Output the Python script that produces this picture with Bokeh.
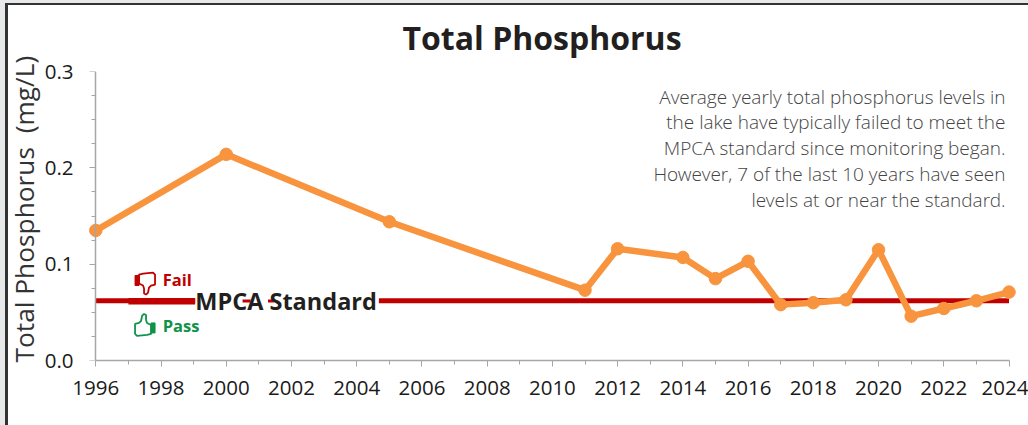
from bokeh.plotting import figure
from bokeh.models import Range1d, LinearAxis, FixedTicker, Label, Title
from bokeh.embed import file_html
from bokeh.resources import INLINE

title_text = "Total Phosphorus"
y_label = "\u00a0\u00a0Total Phosphorus \u00a0(mg/L)"
years = [1996, 2000, 2005, 2011, 2012, 2014, 2015, 2016, 2017, 2018, 2019, 2020, 2021, 2022, 2023, 2024]
phosphorus = [0.135, 0.214, 0.144, 0.073, 0.116, 0.107, 0.085, 0.103, 0.058, 0.060, 0.063, 0.115, 0.046, 0.054, 0.062, 0.071]
standard_years = [1996, 2024]
standard_value = [0.062, 0.062]
x_major = list(range(1996, 2025, 2))
x_minor = list(range(1997, 2024, 2))
y_major = [0.0, 0.1, 0.2, 0.3]
y_minor = [0.025, 0.05, 0.075, 0.125, 0.15, 0.175, 0.225, 0.25, 0.275]
note_lines = [
    "Average yearly total phosphorus levels in",
    "the lake have typically failed to meet the",
    "MPCA standard since monitoring began.",
    "However, 7 of the last 10 years have seen",
    "levels at or near the standard.",
]

W, H = 1028, 425
FL, X0, X1, FR = 79, 95.3, 1008.5, 1024  # frame left, pixel of 1996, pixel of 2024, frame right
YT, YB = 71, 360
sx = (X1 - X0) / (2024 - 1996)
xr = Range1d(1996 - (X0 - FL) / sx, 2024 + (FR - X1) / sx)
yr = Range1d(0, 0.3)
FONT = "Open Sans"
ORANGE, RED, GREEN = "#F7943D", "#C00000", "#0E9347"
GREY, DARK = "#E7E8EA", "#333333"

def bar(color, pos, size):
    return f"linear-gradient({color},{color}) {pos}/{size} no-repeat"

p = figure(width=W, height=H, x_range=xr, y_range=yr, output_backend="svg", toolbar_location=None,
           x_axis_location=None, y_axis_location=None,
           min_border_left=FL, min_border_right=W - FR, min_border_top=YT, min_border_bottom=H - YB,
           background_fill_color="white", border_fill_color=None, outline_line_color=None,
           styles={"background": ", ".join([bar(GREY, "0 0", "100% 3px"), bar(GREY, "0 0", "5px 100%"),
                                            bar(DARK, "5px 3px", "100% 2px"), bar(DARK, "5px 3px", "3px 100%"),
                                            "white"])})
p.grid.visible = False

def style(ax):
    ax.axis_line_color = "#A6A6A6"; ax.axis_line_width = 1.5
    ax.major_tick_line_color = "#A6A6A6"; ax.minor_tick_line_color = "#A6A6A6"
    ax.major_tick_in = 0; ax.minor_tick_in = 0
    ax.major_tick_out = 6; ax.minor_tick_out = 4
    ax.major_label_text_font = FONT; ax.major_label_text_font_size = "20.5px"
    ax.major_label_text_color = "#1a1a1a"

xa = LinearAxis(ticker=FixedTicker(ticks=x_major, minor_ticks=x_minor), bounds=(1996, 2024))
style(xa); xa.major_label_standoff = 14
p.add_layout(xa, "below")

# labels of the y axis at the edge of the frame, its line and ticks at 1996
ya = LinearAxis(ticker=FixedTicker(ticks=y_major),
                axis_label=y_label, axis_label_text_font=FONT, axis_label_text_font_size="26.3px",
                axis_label_text_font_style="normal", axis_label_text_color="#333333", axis_label_standoff=0)
style(ya)
ya.axis_line_color = None; ya.major_tick_line_color = None; ya.minor_tick_line_color = None
ya.major_tick_out = 0; ya.minor_tick_out = 0; ya.major_label_standoff = 6
ya.major_label_overrides = {v: f"{v:.1f}" for v in y_major}
p.add_layout(ya, "left")
yl = LinearAxis(ticker=FixedTicker(ticks=y_major, minor_ticks=y_minor), fixed_location=1996, major_label_text_font_size="0px")
style(yl); yl.major_label_text_font_size = "0px"
yl.major_label_overrides = {v: "" for v in y_major}
p.add_layout(yl, "left")

p.add_layout(Title(text=title_text, text_font=FONT, text_font_size="32px", text_font_style="bold",
                   text_color="#231F20", align="left", offset=323, standoff=25), "above")

p.line(standard_years, standard_value, line_color=RED, line_width=5)
p.line([1997, 1999.05], [0.0615, 0.0615], line_color=RED, line_width=6.5)
p.line([1999.05, 2004.68], [0.0618, 0.0618], line_color="white", line_width=8)
p.multi_line([[2000.5, 2000.75], [2001.28, 2001.46]], [[0.0618, 0.0618], [0.0618, 0.0618]], line_color=RED, line_width=3)
p.add_layout(Label(x=1999.05, y=0.0618, text="MPCA Standard", text_font=FONT, text_font_size="23.5px",
                   text_font_style="bold", text_color="#231F20", text_baseline="middle", text_align="left"))

p.line(years, phosphorus, line_color=ORANGE, line_width=6.5)
p.scatter(years, phosphorus, size=12.5, fill_color=ORANGE, line_color=ORANGE)

px = 1 / sx; py = 0.3 / (YB - YT)
hand = [(-6,-9),(-2,-10),(8,-11),(10,-9),(10,1),(6,2),(4,4),(3,9),(1,11),(-1,10),(-1,5),(-2,2),(-6,0)]
cuff = [(-10,-8),(-6,-8),(-6,2),(-10,2)]
def shape(pts, xc, yc, mirror):
    s = -1 if mirror else 1
    return [xc + s * a * px for a, b in pts], [yc - s * b * py for a, b in pts]
for xc, yc, mirror, col in ((1997.51, 0.0799, False, RED), (1997.51, 0.0369, True, GREEN)):
    hx, hy = shape(hand, xc, yc, mirror)
    p.patch(hx, hy, fill_color="white", line_color=col, line_width=1.8)
    cx, cy = shape(cuff, xc, yc, mirror)
    p.patch(cx, cy, fill_color=col, line_color=col, line_width=1)
p.add_layout(Label(x=1998.05, y=0.0845, text="Fail", text_font=FONT, text_font_size="16.5px", text_font_style="bold",
                   text_color=RED, text_baseline="middle"))
p.add_layout(Label(x=1998.05, y=0.0365, text="Pass", text_font=FONT, text_font_size="16.5px", text_font_style="bold",
                   text_color=GREEN, text_baseline="middle"))

for i, line in enumerate(note_lines):
    p.add_layout(Label(x=1005, y=96 + i * 25.8, x_units="canvas", y_units="canvas", text=line, text_font="Open Sans Light",
                       text_font_size="19px", text_color="#444444", text_align="right", text_baseline="middle"))

open("out.html", "w").write(file_html(p, INLINE))
